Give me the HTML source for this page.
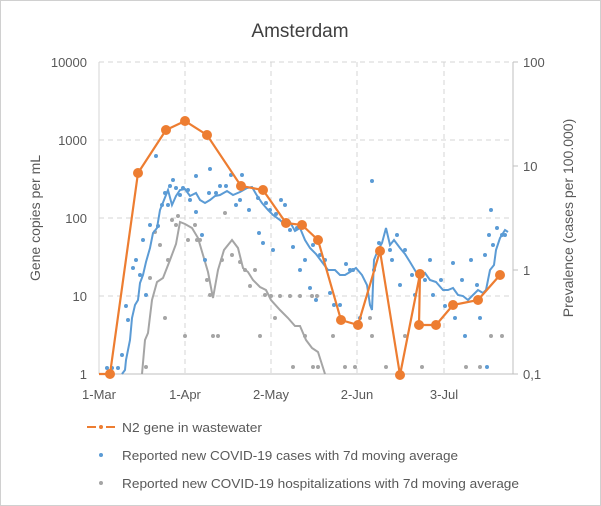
<!DOCTYPE html>
<html><head><style>body{margin:0;background:#fff}svg{display:block;font-family:"Liberation Sans",sans-serif}</style></head><body>
<svg width="601" height="506" viewBox="0 0 601 506">
<rect x="0.5" y="0.5" width="600" height="505" fill="#fff" stroke="#d0d0d0"/>
<text x="300" y="37" font-size="19" fill="#404040" text-anchor="middle">Amsterdam</text>
<g stroke="#d4d4d4" stroke-dasharray="5,4" stroke-width="1">
<line x1="99" y1="62" x2="513" y2="62"/><line x1="99" y1="140" x2="513" y2="140"/><line x1="99" y1="218" x2="513" y2="218"/><line x1="99" y1="296" x2="513" y2="296"/>
<line x1="185" y1="62" x2="185" y2="374"/><line x1="271" y1="62" x2="271" y2="374"/><line x1="357" y1="62" x2="357" y2="374"/><line x1="444" y1="62" x2="444" y2="374"/>
</g>
<line x1="99" y1="62" x2="99" y2="374" stroke="#d4d4d4"/>
<line x1="99" y1="374" x2="513" y2="374" stroke="#bfbfbf"/>
<line x1="513" y1="62" x2="513" y2="374" stroke="#bfbfbf"/>
<g stroke="#bfbfbf"><line x1="513" y1="62" x2="518" y2="62"/><line x1="513" y1="166" x2="518" y2="166"/><line x1="513" y1="270" x2="518" y2="270"/><line x1="513" y1="374" x2="518" y2="374"/></g>
<g font-size="13" fill="#595959" text-anchor="end">
<text x="87" y="67">10000</text><text x="87" y="145">1000</text><text x="87" y="223">100</text><text x="87" y="301">10</text><text x="87" y="379">1</text>
</g>
<g font-size="13" fill="#595959">
<text x="523" y="67">100</text><text x="523" y="171">10</text><text x="523" y="275">1</text><text x="523" y="379">0,1</text>
</g>
<g font-size="13" fill="#595959" text-anchor="middle">
<text x="99" y="399">1-Mar</text><text x="185" y="399">1-Apr</text><text x="271" y="399">2-May</text><text x="357" y="399">2-Jun</text><text x="444" y="399">3-Jul</text>
</g>
<text transform="translate(40,218) rotate(-90)" font-size="14" fill="#595959" text-anchor="middle">Gene copies per mL</text>
<text transform="translate(573,218) rotate(-90)" font-size="14" fill="#595959" text-anchor="middle">Prevalence (cases per 100.000)</text>
<!-- gray dots -->
<g fill="#a5a5a5">
<circle cx="146" cy="367" r="2"/><circle cx="150" cy="278" r="2"/><circle cx="155" cy="232" r="2"/><circle cx="160" cy="245" r="2"/><circle cx="165" cy="318" r="2"/><circle cx="168" cy="260" r="2"/><circle cx="172" cy="220" r="2"/><circle cx="176" cy="225" r="2"/><circle cx="178" cy="216" r="2"/><circle cx="185" cy="336" r="2"/><circle cx="188" cy="240" r="2"/><circle cx="195" cy="225" r="2"/><circle cx="197" cy="240" r="2"/><circle cx="200" cy="240" r="2"/><circle cx="207" cy="280" r="2"/><circle cx="210" cy="295" r="2"/><circle cx="213" cy="336" r="2"/><circle cx="218" cy="336" r="2"/><circle cx="222" cy="260" r="2"/><circle cx="225" cy="213" r="2"/><circle cx="232" cy="255" r="2"/><circle cx="240" cy="262" r="2"/><circle cx="245" cy="270" r="2"/><circle cx="250" cy="286" r="2"/><circle cx="255" cy="270" r="2"/><circle cx="260" cy="336" r="2"/><circle cx="265" cy="295" r="2"/><circle cx="271" cy="296" r="2"/><circle cx="275" cy="318" r="2"/><circle cx="280" cy="296" r="2"/><circle cx="290" cy="296" r="2"/><circle cx="293" cy="367" r="2"/><circle cx="300" cy="296" r="2"/><circle cx="305" cy="336" r="2"/><circle cx="313" cy="367" r="2"/><circle cx="318" cy="367" r="2"/><circle cx="333" cy="336" r="2"/><circle cx="345" cy="367" r="2"/><circle cx="355" cy="367" r="2"/><circle cx="370" cy="318" r="2"/><circle cx="372" cy="336" r="2"/><circle cx="386" cy="367" r="2"/><circle cx="405" cy="336" r="2"/><circle cx="422" cy="367" r="2"/><circle cx="466" cy="367" r="2"/><circle cx="480" cy="367" r="2"/><circle cx="491" cy="336" r="2"/><circle cx="502" cy="336" r="2"/><circle cx="317" cy="296" r="2"/><circle cx="312" cy="296" r="2"/>
</g>
<!-- gray MA -->
<polyline fill="none" stroke="#a5a5a5" stroke-width="2" points="142,374 145,340 148,333 152,300 157,282 163,278 170,260 176,244 180,222 185,224 192,228 198,238 203,255 208,272 213,298 218,270 224,250 232,240 238,248 243,268 248,272 253,280 260,287 266,290 271,300 280,310 288,318 295,326 300,326 306,340 312,348 318,352 325,374"/>
<!-- blue dots -->
<g fill="#5b9bd5">
<circle cx="107" cy="368" r="2"/><circle cx="112" cy="368" r="2"/><circle cx="118" cy="368" r="2"/><circle cx="122" cy="355" r="2"/><circle cx="126" cy="306" r="2"/><circle cx="128" cy="320" r="2"/><circle cx="133" cy="268" r="2"/><circle cx="136" cy="260" r="2"/><circle cx="140" cy="275" r="2"/><circle cx="143" cy="240" r="2"/><circle cx="146" cy="295" r="2"/><circle cx="150" cy="225" r="2"/><circle cx="156" cy="156" r="2"/><circle cx="158" cy="226" r="2"/><circle cx="162" cy="205" r="2"/><circle cx="165" cy="193" r="2"/><circle cx="168" cy="205" r="2"/><circle cx="170" cy="186" r="2"/><circle cx="173" cy="180" r="2"/><circle cx="176" cy="188" r="2"/><circle cx="180" cy="195" r="2"/><circle cx="183" cy="188" r="2"/><circle cx="188" cy="190" r="2"/><circle cx="190" cy="200" r="2"/><circle cx="196" cy="212" r="2"/><circle cx="202" cy="235" r="2"/><circle cx="196" cy="176" r="2"/><circle cx="205" cy="260" r="2"/><circle cx="209" cy="193" r="2"/><circle cx="210" cy="169" r="2"/><circle cx="216" cy="193" r="2"/><circle cx="220" cy="186" r="2"/><circle cx="226" cy="186" r="2"/><circle cx="231" cy="175" r="2"/><circle cx="236" cy="205" r="2"/><circle cx="240" cy="200" r="2"/><circle cx="242" cy="175" r="2"/><circle cx="249" cy="210" r="2"/><circle cx="258" cy="198" r="2"/><circle cx="259" cy="233" r="2"/><circle cx="263" cy="243" r="2"/><circle cx="266" cy="203" r="2"/><circle cx="270" cy="210" r="2"/><circle cx="273" cy="250" r="2"/><circle cx="276" cy="214" r="2"/><circle cx="281" cy="200" r="2"/><circle cx="285" cy="205" r="2"/><circle cx="290" cy="230" r="2"/><circle cx="293" cy="247" r="2"/><circle cx="297" cy="228" r="2"/><circle cx="300" cy="270" r="2"/><circle cx="305" cy="260" r="2"/><circle cx="310" cy="288" r="2"/><circle cx="313" cy="245" r="2"/><circle cx="316" cy="300" r="2"/><circle cx="320" cy="255" r="2"/><circle cx="325" cy="260" r="2"/><circle cx="330" cy="293" r="2"/><circle cx="334" cy="305" r="2"/><circle cx="340" cy="305" r="2"/><circle cx="346" cy="264" r="2"/><circle cx="350" cy="270" r="2"/><circle cx="353" cy="270" r="2"/><circle cx="360" cy="318" r="2"/><circle cx="372" cy="181" r="2"/><circle cx="374" cy="270" r="2"/><circle cx="379" cy="243" r="2"/><circle cx="382" cy="250" r="2"/><circle cx="390" cy="250" r="2"/><circle cx="392" cy="260" r="2"/><circle cx="397" cy="235" r="2"/><circle cx="400" cy="285" r="2"/><circle cx="405" cy="250" r="2"/><circle cx="412" cy="275" r="2"/><circle cx="415" cy="295" r="2"/><circle cx="420" cy="275" r="2"/><circle cx="425" cy="280" r="2"/><circle cx="430" cy="260" r="2"/><circle cx="433" cy="295" r="2"/><circle cx="441" cy="280" r="2"/><circle cx="445" cy="306" r="2"/><circle cx="453" cy="263" r="2"/><circle cx="455" cy="318" r="2"/><circle cx="462" cy="280" r="2"/><circle cx="465" cy="336" r="2"/><circle cx="471" cy="260" r="2"/><circle cx="477" cy="285" r="2"/><circle cx="480" cy="318" r="2"/><circle cx="485" cy="255" r="2"/><circle cx="487" cy="367" r="2"/><circle cx="489" cy="235" r="2"/><circle cx="491" cy="210" r="2"/><circle cx="493" cy="245" r="2"/><circle cx="497" cy="228" r="2"/><circle cx="502" cy="235" r="2"/><circle cx="505" cy="235" r="2"/>
</g>
<polyline fill="none" stroke="#5b9bd5" stroke-width="2" points="122,374 125,370 126,360 128,350 130,340 132,318 135,305 138,300 140,283 143,275 146,262 150,248 153,233 157,228 160,210 164,200 168,190 172,205 176,196 180,190 185,189 190,196 196,193 200,200 205,203 210,200 215,196 220,195 227,191 233,195 240,192 247,188 252,187 256,194 262,203 268,210 273,215 280,220 285,225 290,222 295,231 300,228 305,240 310,248 316,254 322,262 328,270 335,270 340,275 345,275 350,272 356,268 362,275 367,285 370,305 372,310 374,260 378,250 382,243 386,228 390,245 394,240 400,248 405,254 410,262 416,272 420,276 425,273 430,280 436,282 443,290 448,290 453,288 458,295 463,296 468,300 473,295 478,290 483,293 486,290 488,280 490,270 494,265 496,250 500,238 505,230 508,232"/>
<!-- orange -->
<polyline fill="none" stroke="#ed7d31" stroke-width="2.2" points="99,374 110,374 138,173 166,130 185,121 207,135 241,186 263,190 286,223 302,225 318,240 341,320 358,325 380,251 400,375 420,274 419,325 436,325 453,305 478,300 500,275"/>
<g fill="#ed7d31">
<circle cx="110" cy="374" r="5"/><circle cx="138" cy="173" r="5"/><circle cx="166" cy="130" r="5"/><circle cx="185" cy="121" r="5"/><circle cx="207" cy="135" r="5"/><circle cx="241" cy="186" r="5"/><circle cx="263" cy="190" r="5"/><circle cx="286" cy="223" r="5"/><circle cx="302" cy="225" r="5"/><circle cx="318" cy="240" r="5"/><circle cx="341" cy="320" r="5"/><circle cx="358" cy="325" r="5"/><circle cx="380" cy="251" r="5"/><circle cx="400" cy="375" r="5"/><circle cx="420" cy="274" r="5"/><circle cx="419" cy="325" r="5"/><circle cx="436" cy="325" r="5"/><circle cx="453" cy="305" r="5"/><circle cx="478" cy="300" r="5"/><circle cx="500" cy="275" r="5"/>
</g>
<!-- legend -->
<line x1="87" y1="427" x2="96" y2="427" stroke="#ed7d31" stroke-width="2"/><line x1="106" y1="427" x2="115" y2="427" stroke="#ed7d31" stroke-width="2"/><circle cx="101" cy="427" r="2" fill="#ed7d31"/>
<circle cx="101" cy="455" r="2" fill="#5b9bd5"/><circle cx="101" cy="483" r="2" fill="#a5a5a5"/>
<g font-size="13" fill="#595959">
<text x="122" y="432" textLength="140" lengthAdjust="spacingAndGlyphs">N2 gene in wastewater</text>
<text x="122" y="460" textLength="336" lengthAdjust="spacingAndGlyphs">Reported new COVID-19 cases with 7d moving average</text>
<text x="122" y="488" textLength="397" lengthAdjust="spacingAndGlyphs">Reported new COVID-19 hospitalizations with 7d moving average</text>
</g>
</svg>
</body></html>
